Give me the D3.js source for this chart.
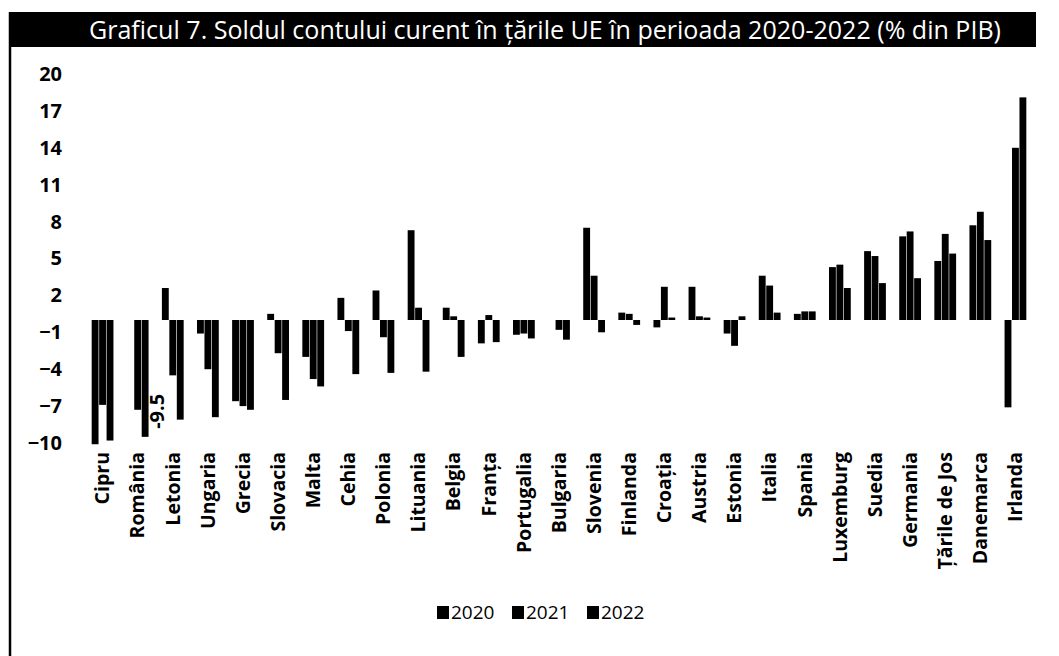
<!DOCTYPE html>
<html>
<head>
<meta charset="utf-8">
<script src="https://cdn.jsdelivr.net/npm/d3@7"></script>
<style>
  body { margin: 0; background: #fff; }
  svg { display: block; }
</style>
</head>
<body>
<div id="chart"></div>
<script>
const countries = ["Cipru", "România", "Letonia", "Ungaria", "Grecia", "Slovacia", "Malta", "Cehia",
  "Polonia", "Lituania", "Belgia", "Franța", "Portugalia", "Bulgaria", "Slovenia", "Finlanda",
  "Croația", "Austria", "Estonia", "Italia", "Spania", "Luxemburg", "Suedia", "Germania",
  "Țările de Jos", "Danemarca", "Irlanda"];
const years = ["2020", "2021", "2022"];

const v2020 = [-10.1, null, 2.6, -1.1, -6.6, 0.5, -3.0, 1.8, 2.4, 7.3, 1.0, -1.9, -1.2, 0.0, 7.5, 0.6,
  -0.6, 2.7, -1.1, 3.6, 0.5, 4.3, 5.6, 6.8, 4.8, 7.7, -7.1];
const v2021 = [-6.9, -7.3, -4.5, -4.0, -7.0, -2.7, -4.8, -0.9, -1.4, 1.0, 0.3, 0.4, -1.1, -0.8, 3.6, 0.5,
  2.7, 0.3, -2.1, 2.8, 0.7, 4.5, 5.2, 7.2, 7.0, 8.8, 14.0];
const v2022 = [-9.8, -9.5, -8.1, -7.9, -7.3, -6.5, -5.4, -4.4, -4.3, -4.2, -3.0, -1.8, -1.5, -1.6, -1.0, -0.4,
  0.2, 0.2, 0.3, 0.6, 0.7, 2.6, 3.0, 3.4, 5.4, 6.5, 18.1];
const yTicks = [-10, -7, -4, -1, 2, 5, 8, 11, 14, 17, 20];
const titleText = "Graficul 7. Soldul contului curent în țările UE în perioada 2020-2022 (% din PIB)";
const noteLabel = { country: "România", year: "2022", text: "-9.5", value: -9.5 };

const W = 1059, H = 656;
const series = { "2020": v2020, "2021": v2021, "2022": v2022 };
const rows = [];
countries.forEach((c, i) => years.forEach(yr => {
  const v = series[yr][i];
  if (v !== null) rows.push({ country: c, year: yr, value: v });
}));

const svg = d3.select("#chart").append("svg").attr("width", W).attr("height", H);
const font = "'Open Sans', 'DejaVu Sans', sans-serif";

// title band
svg.append("rect").attr("x", 10).attr("y", 12).attr("width", 1026).attr("height", 35).attr("fill", "#000");
svg.append("text")
   .attr("x", 545).attr("y", 39)
   .attr("text-anchor", "middle")
   .attr("fill", "#fff")
   .attr("font-family", font)
   .attr("font-size", 25)
   .attr("textLength", 912)
   .attr("lengthAdjust", "spacingAndGlyphs")
   .text(titleText);

// left frame line
svg.append("line").attr("x1", 10).attr("x2", 10).attr("y1", 12).attr("y2", H)
   .attr("stroke", "#000").attr("stroke-width", 2.5);

const x0 = d3.scaleBand().domain(countries).range([85, 1033]).paddingInner(0.38).paddingOuter(0.19);
const x1 = d3.scaleBand().domain(years).range([0, x0.bandwidth()]).paddingInner(0.08);
const y = d3.scaleLinear().domain([-10, 20]).range([443, 74]);

// y axis
const yAxis = svg.append("g")
   .attr("transform", "translate(64,0)")
   .call(d3.axisLeft(y).tickValues(yTicks).tickSize(0).tickPadding(2).tickFormat(d3.format("d")));
yAxis.select(".domain").remove();
yAxis.selectAll("text")
   .attr("font-family", font).attr("font-size", 20).attr("font-weight", "bold").attr("fill", "#000");

// bars
svg.append("g").selectAll("rect")
   .data(rows)
   .join("rect")
   .attr("x", d => x0(d.country) + x1(d.year))
   .attr("width", x1.bandwidth())
   .attr("y", d => y(Math.max(0, d.value)))
   .attr("height", d => Math.abs(y(d.value) - y(0)))
   .attr("fill", "#000");

// data label
svg.append("text")
   .attr("transform", `translate(${x0(noteLabel.country) + x1(noteLabel.year) + x1.bandwidth() + 15},${y(noteLabel.value) - 8}) rotate(-90)`)
   .attr("font-family", font).attr("font-size", 20).attr("font-weight", "bold")
   .text(noteLabel.text);

// x axis labels
const xAxis = svg.append("g")
   .attr("transform", "translate(0,449)")
   .call(d3.axisBottom(x0).tickSize(0).tickPadding(0));
xAxis.select(".domain").remove();
xAxis.selectAll("text")
   .attr("font-family", font).attr("font-size", 19.5).attr("font-weight", "bold").attr("fill", "#000")
   .attr("text-anchor", "end")
   .attr("dy", "0.35em")
   .attr("transform", "translate(0,3) rotate(-90)")
   .attr("y", 0).attr("x", 0);

// legend
const legend = svg.append("g").attr("transform", "translate(437,612)");
const lx = d3.scalePoint().domain(years).range([0, 150]);
const item = legend.selectAll("g").data(years).join("g").attr("transform", d => `translate(${lx(d)},0)`);
item.append("rect").attr("x", 0).attr("y", -6).attr("width", 12).attr("height", 13).attr("fill", "#000");
item.append("text").attr("x", 14).attr("y", 0).attr("dy", "0.36em")
    .attr("font-family", font).attr("font-size", 19).text(d => d);
</script>
</body>
</html>
